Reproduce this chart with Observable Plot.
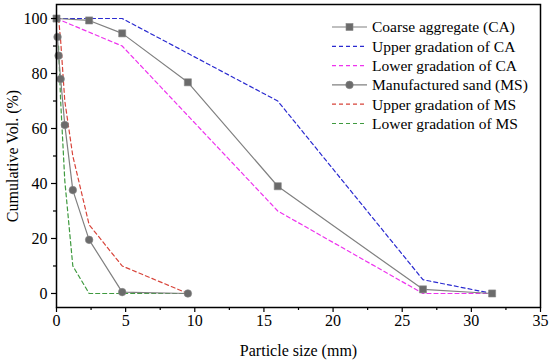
<!DOCTYPE html>
<html>
<head>
<meta charset="utf-8">
<script src="https://cdn.jsdelivr.net/npm/d3@7"></script>
<script src="https://cdn.jsdelivr.net/npm/@observablehq/plot@0.6"></script>
<style>
  html, body { margin: 0; padding: 0; background: white; }
  #chart { position: relative; width: 550px; height: 361px; }
</style>
</head>
<body>
<div id="chart"></div>
<script>
// ---- data ----
const caSize = [0, 2.36, 4.75, 9.5, 16, 26.5, 31.5];
const caVol = [100, 99.3, 94.6, 76.8, 39, 1.5, 0];

const caGradSize = [0, 4.75, 16, 26.5, 31.5];
const caUpper = [100, 100, 70, 5, 0];
const caLower = [100, 90, 30, 0, 0];

const msSize = [0.075, 0.15, 0.3, 0.6, 1.18, 2.36, 4.75, 9.5];
const msVol = [93.3, 86.5, 78, 61.3, 37.6, 19.5, 0.5, 0];

const msGradSize = [0.15, 0.3, 0.6, 1.18, 2.36, 4.75, 9.5];
const msUpper = [100, 92, 70, 50, 25, 10, 0];
const msLower = [90, 70, 41, 10, 0, 0, 0];

const xTicks = [0, 5, 10, 15, 20, 25, 30, 35];
const xMinor = [2.5, 7.5, 12.5, 17.5, 22.5, 27.5, 32.5];
const yTicks = [0, 20, 40, 60, 80, 100];
const yMinor = [10, 30, 50, 70, 90];

const legendLabels = [
  "Coarse aggregate (CA)",
  "Upper gradation of CA",
  "Lower gradation of CA",
  "Manufactured sand (MS)",
  "Upper gradation of MS",
  "Lower gradation of MS"
];

// colours
const cGray = "#808080";
const cMarker = "#6b6b6b";
const cBlue = "#2a2ad0";
const cMagenta = "#ee33ee";
const cRed = "#d8443a";
const cGreen = "#3f9a3f";

const zip = (xs, ys) => xs.map((x, i) => ({x, y: ys[i]}));
const ca = zip(caSize, caVol);
const caU = zip(caGradSize, caUpper);
const caL = zip(caGradSize, caLower);
const ms = zip(msSize, msVol);
const msU = zip(msGradSize, msUpper);
const msL = zip(msGradSize, msLower);

const dash = "4,3";
const font = "'Liberation Serif', 'Times New Roman', serif";
const fs = 16;

const plot = Plot.plot({
  width: 550,
  height: 361,
  marginLeft: 56,
  marginRight: 10,
  marginTop: 4,
  marginBottom: 54,
  style: {fontFamily: font, fontSize: "15px", color: "black", background: "white", overflow: "visible"},
  x: {domain: [0, 35]},
  y: {domain: [-5.1, 105.1]},
  marks: [
    Plot.line(caU, {x: "x", y: "y", stroke: cBlue, strokeWidth: 1.2, strokeDasharray: dash}),
    Plot.line(caL, {x: "x", y: "y", stroke: cMagenta, strokeWidth: 1.2, strokeDasharray: dash}),
    Plot.line(msU, {x: "x", y: "y", stroke: cRed, strokeWidth: 1.2, strokeDasharray: dash}),
    Plot.line(msL, {x: "x", y: "y", stroke: cGreen, strokeWidth: 1.2, strokeDasharray: dash}),
    Plot.line(ca, {x: "x", y: "y", stroke: cGray, strokeWidth: 1.2}),
    Plot.line(ms, {x: "x", y: "y", stroke: cGray, strokeWidth: 1.2}),
    Plot.dot(ca, {x: "x", y: "y", symbol: "square", r: 4, fill: cMarker, stroke: "#888", strokeWidth: 0.6}),
    Plot.dot(ms, {x: "x", y: "y", symbol: "circle", r: 3.8, fill: cMarker, stroke: "#888", strokeWidth: 0.6}),
    Plot.axisX({ticks: xTicks, tickSize: 5, tickPadding: 2, strokeWidth: 1.2, fontSize: fs,
      label: "Particle size (mm)", labelAnchor: "center", labelArrow: "none", labelOffset: 48}),
    Plot.axisX({ticks: xMinor, tickSize: 3, tickFormat: () => "", strokeWidth: 1.2, label: null}),
    Plot.axisY({ticks: yTicks, tickSize: 5, tickPadding: 4, strokeWidth: 1.2, fontSize: fs,
      label: "Cumulative Vol. (%)", labelAnchor: "center", labelArrow: "none", labelOffset: 50}),
    Plot.axisY({ticks: yMinor, tickSize: 3, tickFormat: () => "", strokeWidth: 1.2, label: null}),
    Plot.frame({stroke: "black", strokeWidth: 1.5})
  ]
});

document.getElementById("chart").appendChild(plot);

// ---- legend inside the plot area ----
const svg = d3.select(plot);
const lg = svg.append("g")
  .style("font-family", font).style("font-size", "15.5px").style("text-anchor", "start");
const legendStyles = [
  {stroke: cGray, dash: null, marker: "square"},
  {stroke: cBlue, dash: dash, marker: null},
  {stroke: cMagenta, dash: dash, marker: null},
  {stroke: cGray, dash: null, marker: "circle"},
  {stroke: cRed, dash: dash, marker: null},
  {stroke: cGreen, dash: dash, marker: null}
];
legendLabels.forEach((label, i) => {
  const s = legendStyles[i];
  const yy = 27 + i * 19.3;
  const g = lg.append("g").attr("transform", `translate(0,${yy})`);
  const ln = g.append("line").attr("x1", 332).attr("x2", 367).attr("y1", 0).attr("y2", 0)
    .attr("stroke", s.stroke).attr("stroke-width", 1.2);
  if (s.dash) ln.attr("stroke-dasharray", s.dash);
  if (s.marker === "square") {
    g.append("rect").attr("x", 346).attr("y", -3.5).attr("width", 7).attr("height", 7)
      .attr("fill", cMarker).attr("stroke", "#888").attr("stroke-width", 0.6);
  } else if (s.marker === "circle") {
    g.append("circle").attr("cx", 349.5).attr("cy", 0).attr("r", 3.8)
      .attr("fill", cMarker).attr("stroke", "#888").attr("stroke-width", 0.6);
  }
  g.append("text").attr("x", 372).attr("y", 0).attr("dy", "0.35em")
    .style("font-family", font).style("font-size", "15.5px").style("text-anchor", "start")
    .attr("fill", "black").text(label);
});
</script>
</body>
</html>
